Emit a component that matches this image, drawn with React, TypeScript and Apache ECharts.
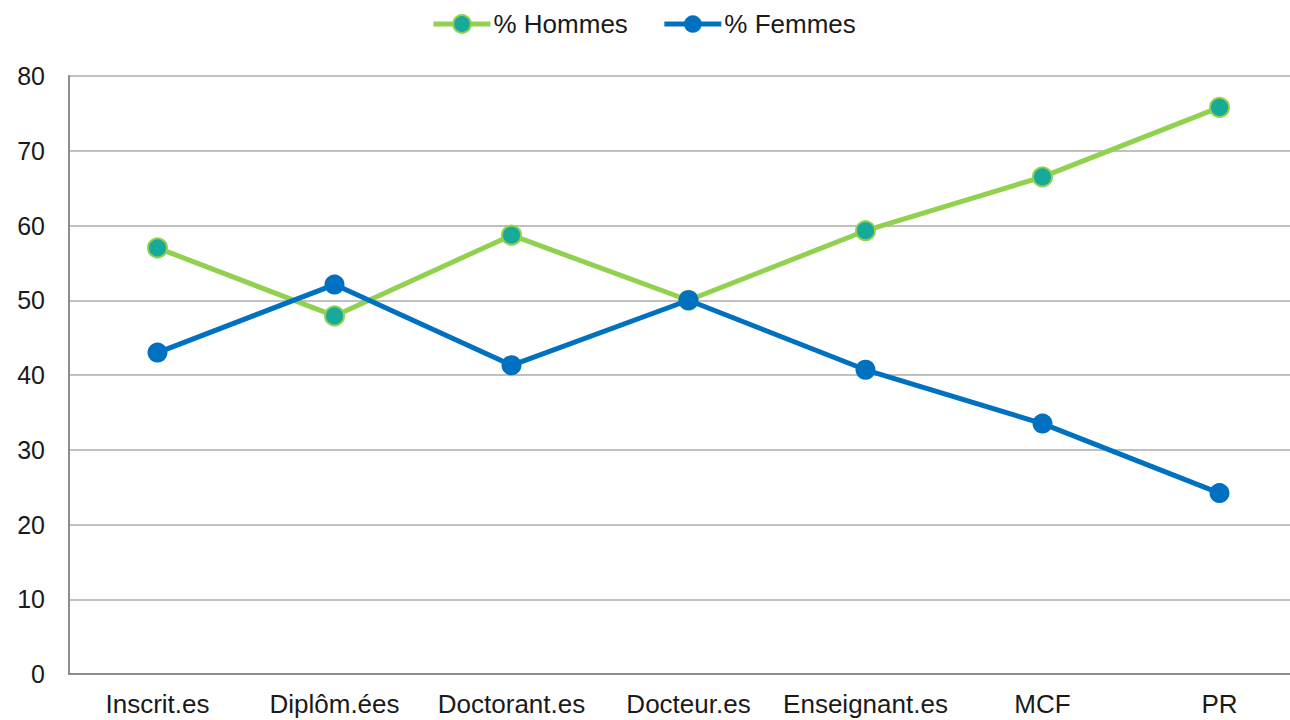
import React, { useEffect, useRef } from "react";
import * as echarts from "echarts";

const categories = ["Inscrit.es", "Diplôm.ées", "Doctorant.es", "Docteur.es", "Enseignant.es", "MCF", "PR"];
const hommes = [57.0, 47.9, 58.7, 50.0, 59.3, 66.5, 75.8];
const femmes = [43.0, 52.1, 41.3, 50.0, 40.7, 33.5, 24.2];
const yTicks = { min: 0, max: 80, interval: 10 };

export default function App() {
  const ref = useRef<HTMLDivElement>(null);
  useEffect(() => {
    document.body.style.margin = "0";
    document.body.style.overflow = "hidden";
    const chart = echarts.init(ref.current!, undefined, { renderer: "svg" });
    const font = "Liberation Sans";
    chart.setOption({
      animation: false,
      textStyle: { fontFamily: font },
      legend: {
        top: 6,
        left: 426,
        itemWidth: 57,
        itemHeight: 22,
        itemGap: 34,
        lineStyle: { width: 5 },
        textStyle: { fontSize: 26, color: "#1a1a1a", fontFamily: font, padding: [0, 0, 0, -2] },
        data: ["% Hommes", "% Femmes"],
      },
      grid: { left: 69, top: 76, width: 1239, height: 598, containLabel: false },
      xAxis: {
        type: "category",
        data: categories,
        boundaryGap: true,
        axisLine: { lineStyle: { color: "#8c8c8c", width: 2 } },
        axisTick: { show: false },
        axisLabel: { fontSize: 26, color: "#1a1a1a", margin: 17, fontFamily: font, interval: 0 },
      },
      yAxis: {
        type: "value",
        min: yTicks.min,
        max: yTicks.max,
        interval: yTicks.interval,
        axisLine: { show: true, lineStyle: { color: "#8c8c8c", width: 2 } },
        axisTick: { show: false },
        axisLabel: { fontSize: 25, color: "#1a1a1a", margin: 24, fontFamily: font },
        splitLine: { lineStyle: { color: "#c0c0c0", width: 2 } },
      },
      series: [
        {
          name: "% Hommes",
          type: "line",
          data: hommes,
          symbol: "circle",
          symbolSize: 19,
          lineStyle: { color: "#92D050", width: 5 },
          itemStyle: { color: "#17A99A", borderColor: "#92D050", borderWidth: 2 },
          z: 2,
        },
        {
          name: "% Femmes",
          type: "line",
          data: femmes,
          symbol: "circle",
          symbolSize: 20,
          lineStyle: { color: "#0070C0", width: 5 },
          itemStyle: { color: "#0070C0", borderColor: "#0070C0", borderWidth: 0 },
          z: 3,
        },
      ],
    });
    return () => chart.dispose();
  }, []);
  return (
    <div style={{ width: 1290, height: 720, overflow: "hidden", position: "relative" }}>
      <div ref={ref} style={{ width: 1320, height: 720, position: "absolute", left: 0, top: 0 }} />
    </div>
  );
}
